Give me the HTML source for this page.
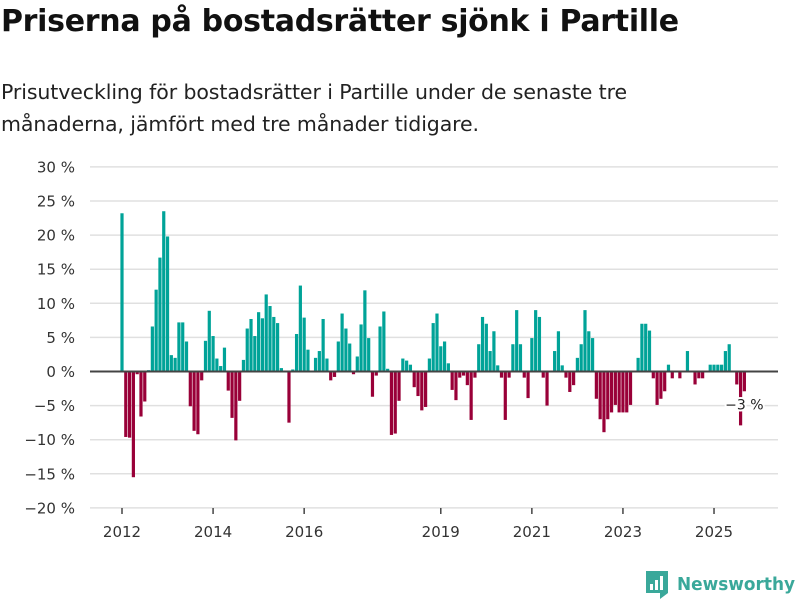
<!DOCTYPE html>
<html><head><meta charset="utf-8"><style>
body{margin:0;background:#fff;font-family:"DejaVu Sans",sans-serif;}
#wrap{position:relative;width:800px;height:600px;overflow:hidden;}
h1{position:absolute;left:1px;top:4px;margin:0;font-size:30px;font-weight:bold;color:#111;letter-spacing:-0.3px;}
p.sub{position:absolute;left:1px;top:76px;margin:0;font-size:20.5px;line-height:32px;color:#222;letter-spacing:-0.1px;}
</style></head><body><div id="wrap">
<h1>Priserna på bostadsrätter sjönk i Partille</h1>
<p class="sub">Prisutveckling för bostadsrätter i Partille under de senaste tre<br>månaderna, jämfört med tre månader tidigare.</p>
<svg id="chart" width="800" height="600" style="position:absolute;left:0;top:0"></svg>
</div>
<script>
const values = [23.2,-9.6,-9.7,-15.5,-0.4,-6.6,-4.4,0.2,6.6,12.0,16.7,23.5,19.8,2.4,2.0,7.2,7.2,4.4,-5.1,-8.7,-9.2,-1.3,4.5,8.9,5.2,1.9,0.8,3.5,-2.8,-6.8,-10.1,-4.3,1.7,6.3,7.7,5.2,8.7,7.8,11.3,9.6,8.0,7.1,0.5,null,-7.5,0.3,5.5,12.6,7.9,3.2,null,2.0,3.0,7.7,1.9,-1.3,-0.8,4.4,8.5,6.3,4.1,-0.4,2.2,6.9,11.9,4.9,-3.7,-0.6,6.6,8.8,0.4,-9.3,-9.1,-4.3,1.9,1.6,1.0,-2.3,-3.6,-5.7,-5.2,1.9,7.1,8.5,3.7,4.4,1.2,-2.7,-4.2,-0.9,-0.6,-2.0,-7.1,-0.9,4.0,8.0,7.0,3.0,5.9,0.9,-0.9,-7.1,-0.9,4.0,9.0,4.0,-0.9,-3.9,4.9,9.0,8.0,-0.9,-5.0,null,3.0,5.9,0.9,-0.9,-3.0,-2.0,2.0,4.0,9.0,5.9,4.9,-4.0,-7.0,-8.9,-7.0,-6.0,-4.9,-6.0,-6.0,-6.0,-4.9,null,2.0,7.0,7.0,6.0,-1.0,-4.9,-4.0,-2.9,1.0,-1.0,null,-1.0,null,3.0,null,-1.9,-1.0,-1.0,null,1.0,1.0,1.0,1.0,3.0,4.0,null,-1.9,-7.9,-2.9];
const startYear = 2012;
const yTicks = [30,25,20,15,10,5,0,-5,-10,-15,-20];
const xYears = [2012,2014,2016,2019,2021,2023,2025];
const lastLabel = "−3 %";

const NS="http://www.w3.org/2000/svg";
const FF='DejaVu Sans, sans-serif';
const svg=document.getElementById('chart');
const y=v=>371.5-v*6.82;
const x=m=>122+m*3.795;
function el(t,a){const e=document.createElementNS(NS,t);for(const k in a)e.setAttribute(k,a[k]);svg.appendChild(e);return e;}
yTicks.forEach(t=>{
  const g=el('line',{x1:90,x2:778,y1:y(t),y2:y(t),stroke:'#e0e0e0','stroke-width':1.5});
  
  
  const l=el('text',{x:75,y:y(t)+5.5,'text-anchor':'end','font-size':15,fill:'#333','font-family':FF});
  l.textContent=(t<0?'−'+(-t):t)+' %';
  
  
});
values.forEach((v,i)=>{
  if(v===null)return;
  const r=el('rect',{x:x(i)-1.6,width:3.2,y:v>=0?y(v):y(0),height:Math.abs(y(v)-y(0)),fill:v>=0?'#00a398':'#990038'});
  
  
});
const z=el('line',{x1:90,x2:778,y1:y(0),y2:y(0),stroke:'#444','stroke-width':2});


xYears.forEach(yr=>{
  const xx=x((yr-startYear)*12);
  const tk=el('line',{x1:xx,x2:xx,y1:508,y2:514,stroke:'#444','stroke-width':1.5});
  
  
  const l=el('text',{x:xx,y:537,'text-anchor':'middle','font-size':15,fill:'#333','font-family':FF});
  l.textContent=yr;
  
  
});
const li=values.length-1;
const ll=el('text',{x:x(li),y:y(-5.6),'text-anchor':'middle','font-size':14,fill:'#222',stroke:'#fff','stroke-width':4,'paint-order':'stroke','font-family':FF});
ll.textContent=lastLabel;


const lg=el('g',{});


const ic=el('path',{d:'M646 571 h22 v22 l-8 6 v-6 h-14 z',fill:'#3aa89a'});
lg.appendChild(ic);
[[650,584,3,6],[655,580,3,10],[660,576,3,14]].forEach(b=>{const r=el('rect',{x:b[0],y:b[1],width:b[2],height:b[3],fill:'#fff'});lg.appendChild(r);});
const lt=el('text',{x:677,y:590,'font-size':18,'font-weight':'bold',fill:'#3aa89a','font-family':FF,textLength:118,lengthAdjust:'spacingAndGlyphs'});
lt.textContent='Newsworthy';
lg.appendChild(lt);
</script></body></html>
